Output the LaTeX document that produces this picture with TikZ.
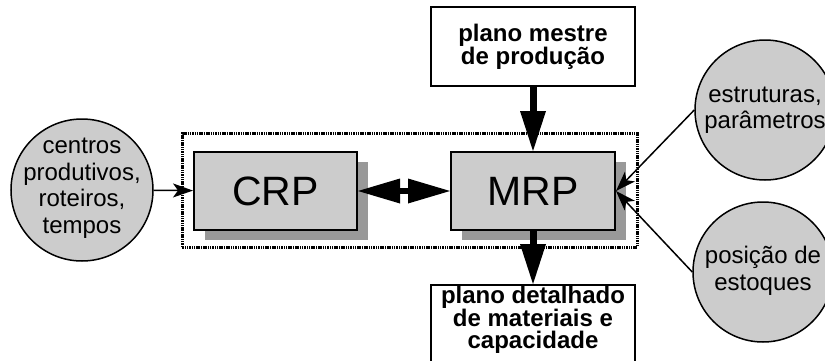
\documentclass[tikz,border=0pt]{standalone}
\usepackage{fontspec}
\setmainfont{Liberation Sans}
\usepackage{tikz}
\usetikzlibrary{arrows.meta, shadows}
\usetikzlibrary{positioning}
\tikzstyle{sys} = [rectangle, draw=black, fill=black!20, line width=2pt, minimum
width=163pt, minimum height=78pt, font=\fontsize{41}{45}\selectfont,
drop shadow={shadow xshift=11pt, shadow yshift=-10pt, fill=black!40, opacity=1}]
\tikzstyle{doc} = [rectangle, draw=black, line width=2pt, minimum width=204pt,
minimum height=79pt, align=center, font=\bfseries\fontsize{24}{22}\selectfont]
\tikzstyle{base} = [circle, draw=black, fill=black!20, line width=1.5pt, minimum
size=140pt, inner sep=0pt]
\tikzstyle{arrow} = [line width=1.5pt,-{Stealth[length=20pt, width=14pt, inset=5pt]}]
\tikzstyle{bigarrow} = [line width=7pt,-{Triangle[length=40pt, width=26pt, line width=0pt]}]

\begin{document}
\begin{tikzpicture}[x=1pt, y=1pt, node distance=1cm]
  \clip (0,0) rectangle (825,360);
  \draw[line width=3pt, dash pattern=on 1.5pt off 0.8pt] (182,113) rectangle (637,227);

  \node (crp) [sys] at (275.5,169) {CRP};
  \node (mrp) [sys, right=92pt of crp, minimum width=164pt] {MRP};

  \node (mps) [doc, above=64pt of mrp] {plano mestre\\de produção};
  \node (pdm) [doc, below=53pt of mrp, minimum height=95pt, label={[anchor=north,
    inner sep=2pt, align=center, font=\bfseries\fontsize{24}{22}\selectfont]north:plano
    detalhado\\de materiais e\\capacidade}] {};

  \node (centros) [base, minimum size=142pt, label={[anchor=center, yshift=2pt,
    align=center, font=\fontsize{24}{26.5}\selectfont]center:centros\\produtivos,\\roteiros,\\tempos}] at (82,170) {};
  \node (estrut) [base, label={[anchor=center, align=center,
    font=\fontsize{24}{26.5}\selectfont]center:estruturas,\\parâmetros}] at (765,250) {};
  \node (posicao) [base, label={[anchor=center, yshift=1pt, align=center,
    font=\fontsize{24}{26.5}\selectfont]center:posição de\\estoques}] at (763,88) {};

  \draw[bigarrow] (mps) -- (mrp);
  \draw[bigarrow] (mrp) -- (pdm);
  \draw[line width=6pt, {Triangle[length=42pt, width=25pt, line width=0pt]}-{Triangle[length=42pt, width=25pt, line width=0pt]}] (crp) -- (mrp);

  \draw[arrow] (centros) -- (crp);
  \draw[arrow] (estrut.west) -- (mrp.east);
  \draw[arrow] (posicao.west) -- (mrp.east);
\end{tikzpicture}
\end{document}
